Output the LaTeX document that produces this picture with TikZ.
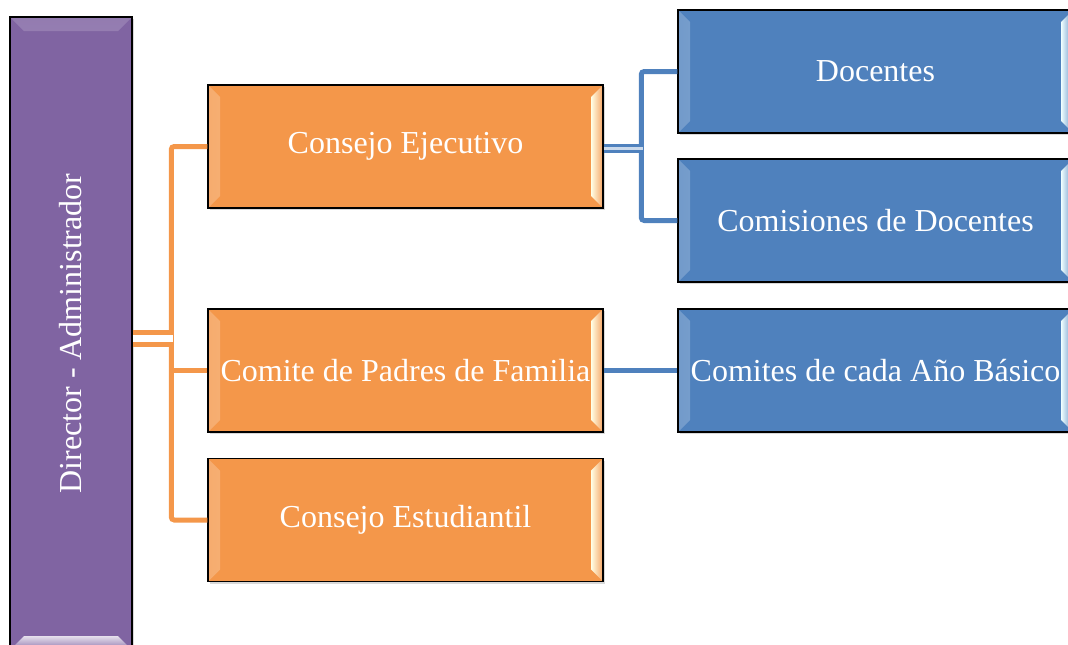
\documentclass[tikz,border=0pt]{standalone}
\usepackage{fontspec}
\setmainfont{Liberation Serif}
\usetikzlibrary{shadows}

\definecolor{dirpurple}{HTML}{8064A2}
\definecolor{ejorange}{HTML}{F4974A}
\definecolor{docblue}{HTML}{4F81BD}

\begin{document}
\begin{tikzpicture}[x = 1pt, y = -1pt, % one unit per pixel, y going down
                semithick, % line style
                % light faces on the left and right edge of a box
                bevel/.style 2 args = {path picture = {
                    \fill[left color = #1, right color = #2]
                    ([shift = {(1pt,-1pt)}]path picture bounding box.north west) -- ++(11pt,-11pt)
                    -- ([shift = {(12pt,12pt)}]path picture bounding box.south west) -- ++(-11pt,-11pt) -- cycle;
                    \fill[left color = #2, right color = #1]
                    ([shift = {(-1pt,-1pt)}]path picture bounding box.north east) -- ++(-11pt,-11pt)
                    -- ([shift = {(-12pt,12pt)}]path picture bounding box.south east) -- ++(11pt,-11pt) -- cycle;}},
                % light faces on the top and bottom edge
                topbevel/.style 2 args = {path picture = {
                    \fill[top color = #1, bottom color = #2]
                    ([shift = {(1pt,-1pt)}]path picture bounding box.north west) -- ++(13pt,-13pt)
                    -- ([shift = {(-14pt,-14pt)}]path picture bounding box.north east) -- ++(13pt,13pt) -- cycle;
                    \fill[top color = #2, bottom color = #1]
                    ([shift = {(1pt,1pt)}]path picture bounding box.south west) -- ++(13pt,13pt)
                    -- ([shift = {(-14pt,14pt)}]path picture bounding box.south east) -- ++(13pt,-13pt) -- cycle;}}
            ]

            \useasboundingbox (0,0) rectangle (1068,645);

            \tikzstyle{every node}=[draw = black, line width = 1.5pt, inner sep = 0pt,
            text = white, font = \fontsize{32pt}{38pt}\selectfont,
            drop shadow = {opacity = 0.3, shadow xshift = 1.5pt, shadow yshift = -2pt}]
            \tikzstyle{hijo}=[minimum width = 395pt, minimum height = 123pt,
            fill = ejorange, bevel = {ejorange!80!white}{yellow!10!white}]
            \tikzstyle{nieto}=[minimum width = 395pt, minimum height = 123pt,
            fill = docblue, bevel = {docblue!80!white}{cyan!6!white}]
            \tikzstyle{oline}=[draw = ejorange, line width = 5pt, rounded corners = 3pt]
            \tikzstyle{odouble}=[draw = ejorange, line width = 5pt, double = white,
            double distance = 7pt]
            \tikzstyle{bline}=[draw = docblue, line width = 5pt, rounded corners = 3pt]
            \tikzstyle{bdouble}=[draw = docblue, line width = 3pt, double = white!70!docblue,
            double distance = 3pt]

            \node (dir) [minimum width = 122pt, minimum height = 633pt, fill = dirpurple,
            topbevel = {dirpurple!85!white}{dirpurple!20!white}] at (71,333.5)
            {\rotatebox{90}{Director - Administrador}};

            \node (ejec) [hijo] at (405.5,146.5) {Consejo Ejecutivo};
            \node (padres) [hijo] at (405.5,370.5) {Comite de Padres de Familia};
            \node (estud) [hijo] at (405.5,520) {Consejo Estudiantil};

            \node (doc) [nieto] at (875.5,71.5) {Docentes};
            \node (comis) [nieto] at (875.5,220.5) {Comisiones de Docentes};
            \node (anio) [nieto] at (875.5,370.5) {Comites de cada Año Básico};

            \path[oline] (ejec.west) -- ++(-36,0) |- (estud.west);
            \path[oline] (padres.west) -- ++(-36,0);
            \path[odouble] ([yshift = -5pt]dir.east) -- ++(40,0);

            \path[bline] (doc.west) -- ++(-36,0) |- (comis.west);
            \path[bdouble] ([yshift = -2pt]ejec.east) -- ++(39,0);
            \path[bline] (padres.east) -- (anio.west);
        \end{tikzpicture}
\end{document}
